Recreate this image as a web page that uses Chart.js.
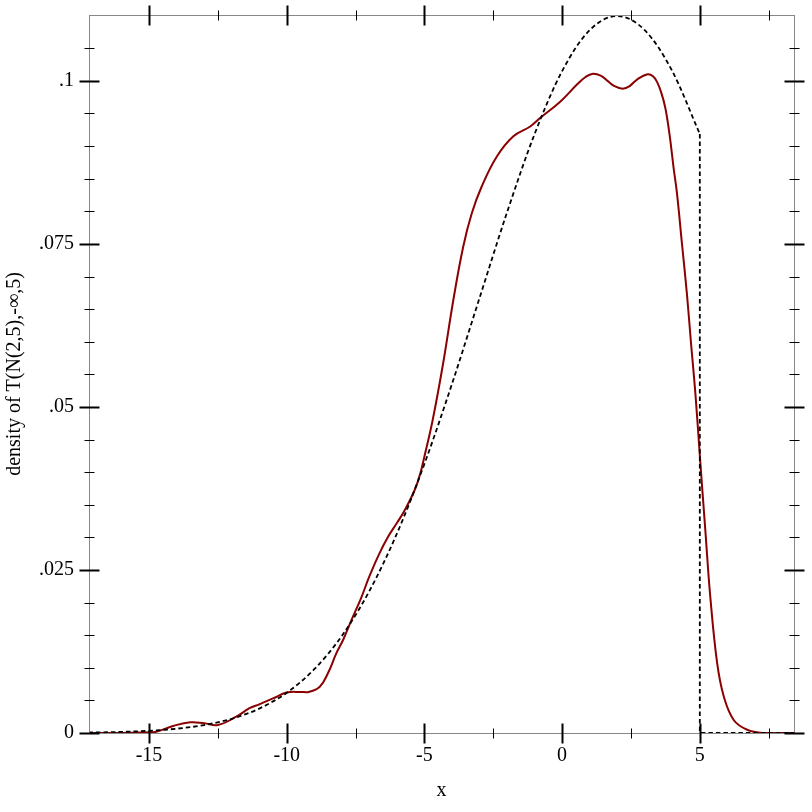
<!DOCTYPE html>
<html>
<head>
<meta charset="utf-8">
<script src="https://cdn.jsdelivr.net/npm/chart.js@4"></script>
<style>
html,body{margin:0;padding:0;background:#fff;}
canvas{display:block;}
</style>
</head>
<body>
<canvas id="c" width="812" height="812"></canvas>
<script>
// ---- data ----
const sampleX = [-17.2,-16,-15.5,-15,-14.74,-14.13,-13.5,-13,-12.5,-11.83,-11.35,-11,-10.5,-10,-9.5,-9.2,-8.8,-8.5,-8.2,-7.95,-7.65,-7.3,-7,-6.65,-6.32,-6,-5.71,-5.35,-5.15,-5,-4.7,-4.32,-3.95,-3.59,-3.28,-2.92,-2.37,-1.77,-1.16,-0.8,-0.07,0.53,0.85,1.12,1.4,1.65,1.9,2.2,2.45,2.72,3.1,3.3,3.45,3.6,3.75,3.9,4.05,4.17,4.35,4.53,4.68,4.84,5.02,5.2,5.38,5.63,5.87,6.23,6.72,7.3,8.42];
const sampleY = [0,0,0.00005,0.0001,0.0002,0.00107,0.00165,0.0015,0.00123,0.0025,0.0038,0.0044,0.0053,0.0062,0.0063,0.0063,0.0071,0.0092,0.0122,0.0143,0.0173,0.0207,0.024,0.0274,0.0301,0.0322,0.0342,0.0373,0.0398,0.0424,0.048,0.0567,0.0664,0.0746,0.0797,0.0838,0.0884,0.0915,0.093,0.0943,0.0968,0.0994,0.1006,0.1011,0.1008,0.1000,0.0992,0.0988,0.0992,0.1002,0.101,0.1007,0.0998,0.0982,0.0958,0.0918,0.0866,0.0828,0.0751,0.0674,0.0598,0.052,0.0414,0.0311,0.0209,0.0107,0.0056,0.002,0.0005,0,0];

const exactX = [-17.2,-17,-16,-15,-14,-13,-12,-11,-10,-9,-8,-7,-6,-5,-4,-3,-2,-1,0,1,2,3,4,5];
const exactY = [0.000069,0.00008,0.00017,0.00034,0.00066,0.00122,0.00218,0.00374,0.00617,0.00978,0.01488,0.02176,0.03057,0.04127,0.05352,0.06669,0.07984,0.09184,0.1015,0.10777,0.10995,0.10777,0.1015,0.09184];
const tailX = [5,5,8.42];
const tailY = [0.09184,0,0];

const xMajorTicks = [-15,-10,-5,0,5];
const xTickLabels = ['-15','-10','-5','0','5'];
const xMinorTicks = [-12.5,-7.5,-2.5,2.5,7.5];
const yMajorTicks = [0,0.025,0.05,0.075,0.1];
const yTickLabels = ['0','.025','.05','.075','.1'];
const yMinorTicks = [0.005,0.01,0.015,0.02,0.03,0.035,0.04,0.045,0.055,0.06,0.065,0.07,0.08,0.085,0.09,0.095,0.105];

const xTitle = 'x';
const yTitle = 'density of T(N(2,5),-∞,5)';

const pts = (xs, ys) => xs.map((x, i) => ({x: x, y: ys[i]}));

const frameTicks = {
  id: 'frameTicks',
  afterDatasetsDraw(chart) {
    const ctx = chart.ctx, a = chart.chartArea;
    const xs = chart.scales.x, ys = chart.scales.y;
    ctx.save();
    ctx.strokeStyle = '#888';
    ctx.lineWidth = 1;
    ctx.strokeRect(Math.round(a.left) + 0.5, Math.round(a.top) + 0.5, Math.round(a.right - a.left), Math.round(a.bottom - a.top));
    ctx.strokeStyle = '#000';
    const L = Math.round(a.left) + 0.5, R = Math.round(a.right) + 0.5, T = Math.round(a.top) + 0.5, B = Math.round(a.bottom) + 0.5;
    function vt(v, len, w) {
      const p = Math.round(xs.getPixelForValue(v)) + 0.5;
      ctx.lineWidth = w;
      ctx.beginPath();
      ctx.moveTo(p, B - len); ctx.lineTo(p, B + len);
      ctx.moveTo(p, T - len); ctx.lineTo(p, T + len);
      ctx.stroke();
    }
    function ht(v, len, w) {
      const p = Math.round(ys.getPixelForValue(v)) + 0.5;
      ctx.lineWidth = w;
      ctx.beginPath();
      ctx.moveTo(L - len, p); ctx.lineTo(L + len, p);
      ctx.moveTo(R - len, p); ctx.lineTo(R + len, p);
      ctx.stroke();
    }
    xMajorTicks.forEach(v => vt(v, 10, 2));
    xMinorTicks.forEach(v => vt(v, 5, 1));
    yMajorTicks.forEach(v => ht(v, 10, 2));
    yMinorTicks.forEach(v => ht(v, 5, 1));
    ctx.restore();
  }
};

const font = {family: '"Liberation Serif", "DejaVu Serif", serif', size: 20};

new Chart(document.getElementById('c'), {
  type: 'scatter',
  data: {
    datasets: [
      {data: pts(exactX, exactY), showLine: true, borderColor: '#000', borderWidth: 1.8, borderDash: [4.5, 3], pointRadius: 0, cubicInterpolationMode: 'monotone', fill: false},
      {data: pts(tailX, tailY), showLine: true, borderColor: '#000', borderWidth: 1.8, borderDash: [4.5, 3], pointRadius: 0, tension: 0, fill: false},
      {data: pts(sampleX, sampleY), showLine: true, borderColor: '#8b0000', borderWidth: 2, pointRadius: 0, tension: 0.4, fill: false}
    ]
  },
  options: {
    responsive: false,
    animation: false,
    devicePixelRatio: 1,
    layout: {padding: {top: 15, right: 18, left: 0, bottom: 0}},
    plugins: {legend: {display: false}, tooltip: {enabled: false}},
    scales: {
      x: {
        type: 'linear', min: -17.18, max: 8.42,
        afterBuildTicks: s => { s.ticks = xMajorTicks.map(v => ({value: v})); },
        afterFit: s => { s.height = 79; s.paddingLeft = 0; s.paddingRight = 0; },
        grid: {display: true, drawOnChartArea: false, drawTicks: false, color: 'rgba(0,0,0,0)'},
        border: {display: false},
        ticks: {color: '#000', font: font, padding: 11, maxRotation: 0, autoSkip: false,
          callback: (v) => { const i = xMajorTicks.indexOf(v); return i >= 0 ? xTickLabels[i] : ''; }},
        title: {display: true, text: xTitle, color: '#000', font: font, padding: {top: 0, bottom: 9}}
      },
      y: {
        type: 'linear', min: 0, max: 0.1101,
        afterBuildTicks: s => { s.ticks = yMajorTicks.map(v => ({value: v})); },
        afterFit: s => { s.width = 89; s.paddingTop = 0; s.paddingBottom = 0; },
        grid: {display: true, drawOnChartArea: false, drawTicks: false, color: 'rgba(0,0,0,0)'},
        border: {display: false},
        ticks: {color: '#000', font: font, padding: 15, autoSkip: false,
          callback: (v) => { const i = yMajorTicks.indexOf(v); return i >= 0 ? yTickLabels[i] : ''; }},
        title: {display: true, text: yTitle, color: '#000', font: font, padding: {top: 3, bottom: 0}}
      }
    }
  },
  plugins: [frameTicks]
});
</script>
</body>
</html>
